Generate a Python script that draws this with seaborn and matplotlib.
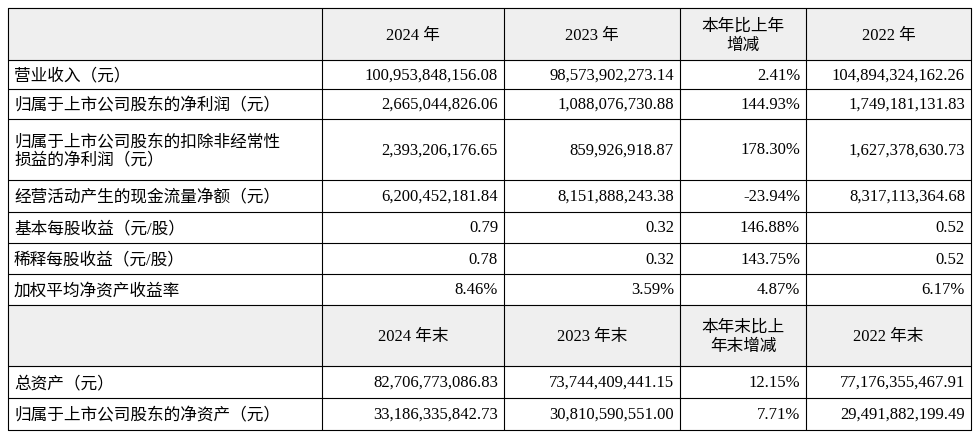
import matplotlib
matplotlib.use("Agg")
import matplotlib.pyplot as plt
import seaborn as sns

sns.set_theme(style="white")
plt.rcParams["font.family"] = ["Liberation Serif", "Noto Sans CJK SC"]

header1 = ["", "2024 年", "2023 年", "本年比上年\n增减", "2022 年"]
header2 = ["", "2024 年末", "2023 年末", "本年末比上\n年末增减", "2022 年末"]

labels1 = [
    "营业收入（元）",
    "归属于上市公司股东的净利润（元）",
    "归属于上市公司股东的扣除非经常性\n损益的净利润（元）",
    "经营活动产生的现金流量净额（元）",
    "基本每股收益（元/股）",
    "稀释每股收益（元/股）",
    "加权平均净资产收益率",
]
y2024 = ["100,953,848,156.08", "2,665,044,826.06", "2,393,206,176.65",
         "6,200,452,181.84", "0.79", "0.78", "8.46%"]
y2023 = ["98,573,902,273.14", "1,088,076,730.88", "859,926,918.87",
         "8,151,888,243.38", "0.32", "0.32", "3.59%"]
change1 = ["2.41%", "144.93%", "178.30%", "-23.94%", "146.88%", "143.75%", "4.87%"]
y2022 = ["104,894,324,162.26", "1,749,181,131.83", "1,627,378,630.73",
         "8,317,113,364.68", "0.52", "0.52", "6.17%"]

labels2 = ["总资产（元）", "归属于上市公司股东的净资产（元）"]
e2024 = ["82,706,773,086.83", "33,186,335,842.73"]
e2023 = ["73,744,409,441.15", "30,810,590,551.00"]
change2 = ["12.15%", "7.71%"]
e2022 = ["77,176,355,467.91", "29,491,882,199.49"]

col_x = [8, 322, 504, 680, 806, 971]
row_y = [8, 60, 89, 119, 180, 212, 243, 274, 305, 366, 398, 430]

rows = [("h", header1)]
for i in range(len(labels1)):
    rows.append(("d", [labels1[i], y2024[i], y2023[i], change1[i], y2022[i]]))
rows.append(("h", header2))
for i in range(len(labels2)):
    rows.append(("d", [labels2[i], e2024[i], e2023[i], change2[i], e2022[i]]))

fig = plt.figure(figsize=(9.76, 4.40), dpi=100)
ax = fig.add_axes([0, 0, 1, 1])
ax.set_xlim(0, 976)
ax.set_ylim(440, 0)
ax.axis("off")

for r, (kind, cells) in enumerate(rows):
    top, bot = row_y[r], row_y[r + 1]
    ym = (top + bot) / 2
    if kind == "h":
        ax.fill_between([col_x[0], col_x[-1]], top, bot, color="#efefef", zorder=0)
    for c, txt in enumerate(cells):
        if kind == "h":
            ax.text((col_x[c] + col_x[c + 1]) / 2, ym + 2, txt, ha="center", va="center",
                    fontsize=12, linespacing=1.25, color="black")
        elif c == 0:
            ax.text(col_x[0] + 6, ym + 2, txt, ha="left", va="center",
                    fontsize=12, linespacing=1.25, color="black")
        else:
            ax.text(col_x[c + 1] - 6, ym + 1, txt, ha="right", va="center",
                    fontsize=12, color="black")

for y in row_y:
    ax.plot([col_x[0], col_x[-1]], [y, y], color="black", lw=0.8)
for x in col_x:
    ax.plot([x, x], [row_y[0], row_y[-1]], color="black", lw=0.8)

fig.savefig("out.png", dpi=100)
